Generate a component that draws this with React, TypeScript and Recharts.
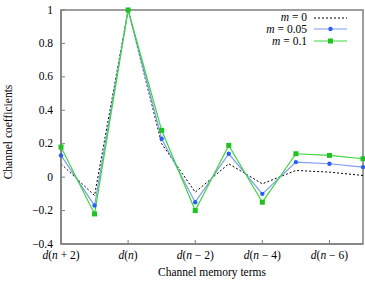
import React from 'react';
import {
  LineChart,
  Line,
  XAxis,
  YAxis,
  ReferenceArea,
} from 'recharts';

// channel memory term index 0..9  ->  d(n+2) ... d(n-7)
const positions = [0, 1, 2, 3, 4, 5, 6, 7, 8, 9];
const m0 = [0.08, -0.11, 1.0, 0.2, -0.09, 0.08, -0.04, 0.04, 0.03, 0.01];
const m005 = [0.13, -0.17, 1.0, 0.23, -0.15, 0.14, -0.1, 0.09, 0.08, 0.06];
const m01 = [0.18, -0.22, 1.0, 0.28, -0.2, 0.19, -0.15, 0.14, 0.13, 0.11];

const xTicks = [0, 2, 4, 6, 8];
const xTickOffsets = ['+ 2', '', '− 2', '− 4', '− 6'];
const yTicks = [-0.4, -0.2, 0, 0.2, 0.4, 0.6, 0.8, 1];

const FONT = 'Liberation Serif, serif';
const FS = 11.5;
const AXIS = '#7f7f7f';
const PLOT_LEFT = 61;
const PLOT_BOTTOM = 244;

const data = positions.map((p, i) => ({
  pos: p,
  m0: m0[i],
  m005: m005[i],
  m01: m01[i],
}));

function fmtY(v: number) {
  if (v === 0) return '0';
  if (v === 1) return '1';
  const s = Math.abs(v).toFixed(1);
  return v < 0 ? '\u2212' + s : s;
}

function XTick(props: any) {
  const { payload } = props;
  const x = payload.coordinate;
  const idx = xTicks.indexOf(payload.value);
  const off = xTickOffsets[idx];
  return (
    <g>
      <line x1={x} x2={x} y1={PLOT_BOTTOM} y2={PLOT_BOTTOM - 4} stroke={AXIS} />
      <text x={x} y={PLOT_BOTTOM + 15} textAnchor="middle" style={{ fontFamily: FONT, fontSize: FS }} fill="#000">
        <tspan fontStyle="italic">d</tspan>(<tspan fontStyle="italic">n</tspan>
        {off ? ' ' + off : ''})
      </text>
    </g>
  );
}

function YTick(props: any) {
  const { payload } = props;
  const y = payload.coordinate;
  return (
    <g>
      <line x1={PLOT_LEFT} x2={PLOT_LEFT + 4} y1={y} y2={y} stroke={AXIS} />
      <text x={PLOT_LEFT - 8} y={y + 3.5} textAnchor="end" style={{ fontFamily: FONT, fontSize: FS }} fill="#000">
        {fmtY(payload.value)}
      </text>
    </g>
  );
}

function Square(props: any) {
  const { cx, cy } = props;
  if (cx == null || cy == null) return null;
  return <rect x={cx - 2.5} y={cy - 2.5} width={5} height={5} fill="#1fc21f" />;
}

function Dot(props: any) {
  const { cx, cy } = props;
  if (cx == null || cy == null) return null;
  return <circle cx={cx} cy={cy} r={2.2} fill="#2a5ef2" />;
}

const legendRows = [
  { label: '0', kind: 'dotted' },
  { label: '0.05', kind: 'blue' },
  { label: '0.1', kind: 'green' },
];

function LegendBox() {
  return (
    <g transform="translate(230 10)">
      {legendRows.map((r, i) => {
        const y = 7 + i * 12;
        return (
          <g key={r.label}>
            <text x={77} y={y + 4} textAnchor="end" style={{ fontFamily: FONT, fontSize: FS }} fill="#000">
              <tspan fontStyle="italic">m</tspan> = {r.label}
            </text>
            {r.kind === 'dotted' && (
              <line x1={84} x2={117} y1={y + 1} y2={y + 1} stroke="#000" strokeDasharray="2 2" />
            )}
            {r.kind === 'blue' && (
              <g>
                <line x1={84} x2={117} y1={y} y2={y} stroke="#7d9cf5" strokeWidth={1.2} />
                <circle cx={100.5} cy={y} r={2.2} fill="#2a5ef2" />
              </g>
            )}
            {r.kind === 'green' && (
              <g>
                <line x1={84} x2={117} y1={y} y2={y} stroke="#3dd43d" strokeWidth={1.2} />
                <rect x={98} y={y - 2.5} width={5} height={5} fill="#1fc21f" />
              </g>
            )}
          </g>
        );
      })}
    </g>
  );
}

export default function App() {
  return (
    <div style={{ width: 365, height: 285, position: 'relative', background: '#fff' }}>
      <style>{'body{margin:0}'}</style>
      <LineChart
        width={365}
        height={285}
        data={data}
        margin={{ top: 10, right: 2, left: 0, bottom: 0 }}
      >
        <XAxis
          dataKey="pos"
          type="number"
          domain={[0, 9]}
          ticks={xTicks}
          tick={<XTick />}
          tickLine={false}
          height={41}
          stroke={AXIS}
          strokeWidth={1.5}
        />
        <YAxis
          type="number"
          domain={[-0.4, 1]}
          ticks={yTicks}
          tick={<YTick />}
          tickLine={false}
          width={61}
          stroke={AXIS}
          strokeWidth={1.5}
        />
        <ReferenceArea x1={0} x2={9} y1={-0.4} y2={1} fill="none" stroke={AXIS} strokeWidth={1.5} />
        <Line
          dataKey="m0"
          stroke="#000"
          strokeWidth={1}
          strokeDasharray="2 2"
          dot={false}
          isAnimationActive={false}
        />
        <Line
          dataKey="m005"
          stroke="#7d9cf5"
          strokeWidth={1.2}
          dot={<Dot />}
          isAnimationActive={false}
        />
        <Line
          dataKey="m01"
          stroke="#3dd43d"
          strokeWidth={1.2}
          dot={<Square />}
          isAnimationActive={false}
        />
      </LineChart>
      <div
        style={{
          position: 'absolute',
          left: 0,
          top: 0,
          width: 365,
          height: 285,
          pointerEvents: 'none',
        }}
      >
        <svg width={365} height={285}>
          <LegendBox />
          <text
            x={212}
            y={276}
            textAnchor="middle"
            style={{ fontFamily: FONT, fontSize: FS }}
            fill="#000"
          >
            Channel memory terms
          </text>
          <text
            x={12}
            y={132}
            textAnchor="middle"
            style={{ fontFamily: FONT, fontSize: FS }}
            fill="#000"
            transform="rotate(-90 12 132)"
          >
            Channel coefficients
          </text>
        </svg>
      </div>
    </div>
  );
}
